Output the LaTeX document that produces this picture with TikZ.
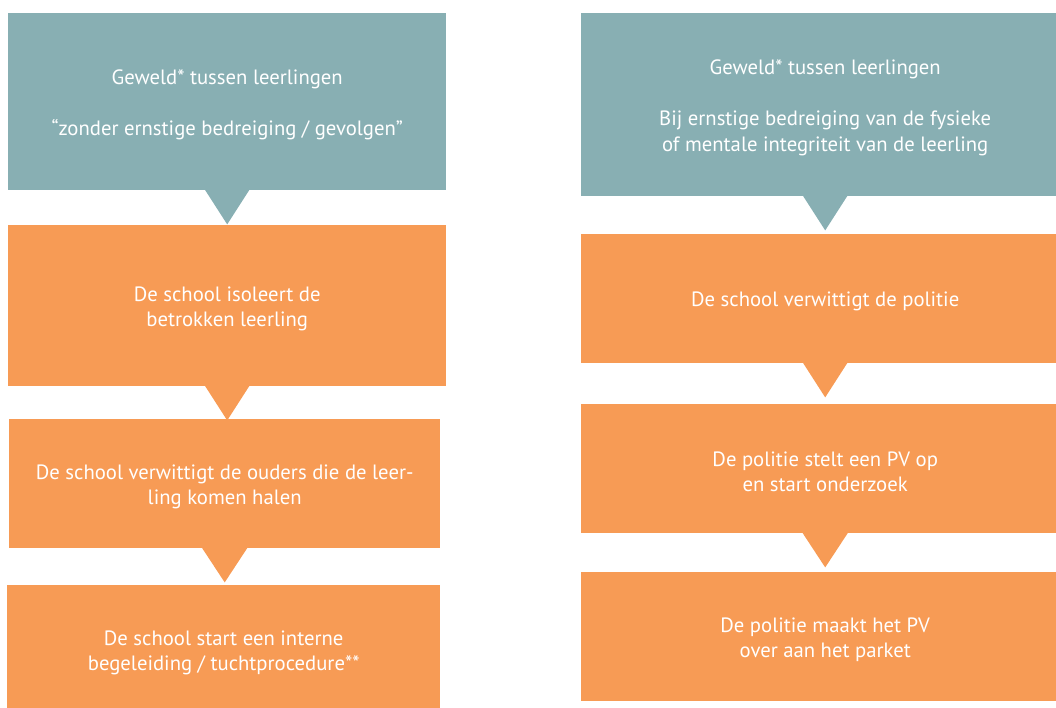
\documentclass[tikz,border=0pt]{standalone}
\usepackage{fontspec}
\setmainfont{PT Sans}
\usetikzlibrary{calc}
\definecolor{tealbox}{HTML}{88AFB3}
\definecolor{orangebox}{HTML}{F79B55}
\tikzset{
  stepbox/.style={draw=none, inner sep=0pt, anchor=north west},
  tealstep/.style={stepbox, fill=tealbox},
  orangestep/.style={stepbox, fill=orangebox},
  steptext/.style={inner sep=0pt, text=white, align=center,
    font=\fontsize{20.7}{25.5}\selectfont}
}
\newcommand{\boxnode}[7]{% style, name, x1, y1, x2, y2, text
  \node[#1, minimum width={#5-#3}, minimum height={#6-#4}] (#2) at (#3,#4) {};
  \node[steptext] (#2t) at ($(#2.center)+(0,3)$) {#7};}
\newcommand{\pointdown}[3]{% node, colour, half width
  \fill[#2] ($(#1.south)+(-#3,-1)$) -- ($(#1.south)+(#3,-1)$) -- ($(#1.south)+(0,34)$) -- cycle;}
\begin{document}
\begin{tikzpicture}[x=1pt,y=-1pt]
\useasboundingbox (0,0) rectangle (1056,707);
\clip (0,0) rectangle (1056,707);
% left column
\boxnode{tealstep}{l1}{8}{13}{446}{190}{Geweld* tussen leerlingen\\\mbox{}\\“zonder ernstige bedreiging / gevolgen”}
\boxnode{orangestep}{l2}{8}{225}{446}{386}{De school isoleert de\\betrokken leerling}
\boxnode{orangestep}{l3}{9}{419}{440}{548}{De school verwittigt de ouders die de leer-\\ling komen halen}
\boxnode{orangestep}{l4}{7}{585}{440}{714}{De school start een interne\\begeleiding / tuchtprocedure**}
% right column
\boxnode{tealstep}{r1}{581}{13}{1069}{196}{Geweld* tussen leerlingen\\\mbox{}\\Bij ernstige bedreiging van de fysieke\\of mentale integriteit van de leerling}
\boxnode{orangestep}{r2}{581}{234}{1069}{363}{De school verwittigt de politie}
\boxnode{orangestep}{r3}{581}{404}{1069}{533}{De politie stelt een PV op\\en start onderzoek}
\boxnode{orangestep}{r4}{581}{572}{1069}{701}{De politie maakt het PV\\over aan het parket}
% pointers
\pointdown{l1}{tealbox}{22.5}
\pointdown{l2}{orangebox}{22.5}
\pointdown{l3}{orangebox}{23}
\pointdown{r1}{tealbox}{22.5}
\pointdown{r2}{orangebox}{22.5}
\pointdown{r3}{orangebox}{23}
\end{tikzpicture}
\end{document}
